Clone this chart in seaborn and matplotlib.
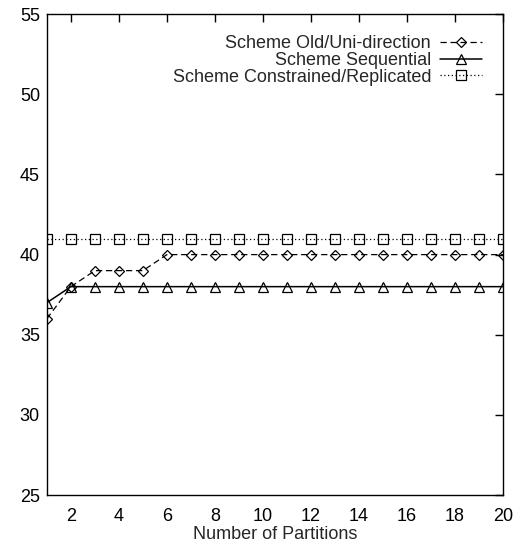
import matplotlib
matplotlib.use("Agg")
import matplotlib.pyplot as plt
import seaborn as sns
import pandas as pd

partitions = list(range(1, 21))
old_uni = [36, 38, 39, 39, 39, 40, 40, 40, 40, 40, 40, 40, 40, 40, 40, 40, 40, 40, 40, 40]
sequential = [37, 38, 38, 38, 38, 38, 38, 38, 38, 38, 38, 38, 38, 38, 38, 38, 38, 38, 38, 38]
constrained = [41] * 20
labels = ["Scheme Old/Uni-direction", "Scheme Sequential", "Scheme Constrained/Replicated"]
x_ticks = [2, 4, 6, 8, 10, 12, 14, 16, 18, 20]
y_ticks = [25, 30, 35, 40, 45, 50, 55]

sns.set_style("white")
plt.rcParams['font.family'] = ['Liberation Sans', 'DejaVu Sans']

fig = plt.figure(figsize=(5.21, 5.46), dpi=100)
ax = fig.add_axes([0.090, 0.0934, 0.8755, 0.8806])

df = pd.DataFrame({"x": partitions * 3,
                   "y": old_uni + sequential + constrained,
                   "s": [labels[0]] * 20 + [labels[1]] * 20 + [labels[2]] * 20})

styles = [dict(ls=(0, (5, 3)), marker="D", ms=5, lw=0.9),
          dict(ls="-", marker="^", ms=7, lw=1.1),
          dict(ls=(0, (1, 2)), marker="s", ms=7, lw=0.9)]
for lab, st in zip(labels, styles):
    sub = df[df["s"] == lab]
    sns.lineplot(data=sub, x="x", y="y", ax=ax, color="black", label=lab,
                 linestyle=st["ls"], marker=st["marker"], markersize=st["ms"],
                 markerfacecolor="none", markeredgecolor="black",
                 markeredgewidth=0.9, linewidth=st["lw"])

ax.set_xlim(1, 20)
ax.set_ylim(25, 55)
ax.set_xticks(x_ticks)
ax.set_yticks(y_ticks)
ax.tick_params(direction="in", length=6, width=1, top=True, right=True,
               labelsize=13, colors="black")
ax.tick_params(axis="y", pad=5)
ax.tick_params(axis="x", pad=9)
for sp in ax.spines.values():
    sp.set_color("black")
    sp.set_linewidth(1)
ax.set_xlabel("Number of Partitions", fontsize=13, labelpad=1)
ax.set_ylabel("")

leg = ax.legend(loc="upper right", frameon=False, markerfirst=False, fontsize=13,
                handlelength=2.3, borderaxespad=0.0, labelspacing=-0.02,
                handletextpad=0.5, bbox_to_anchor=(0.969, 0.971))

fig.savefig("out.png", dpi=100)
